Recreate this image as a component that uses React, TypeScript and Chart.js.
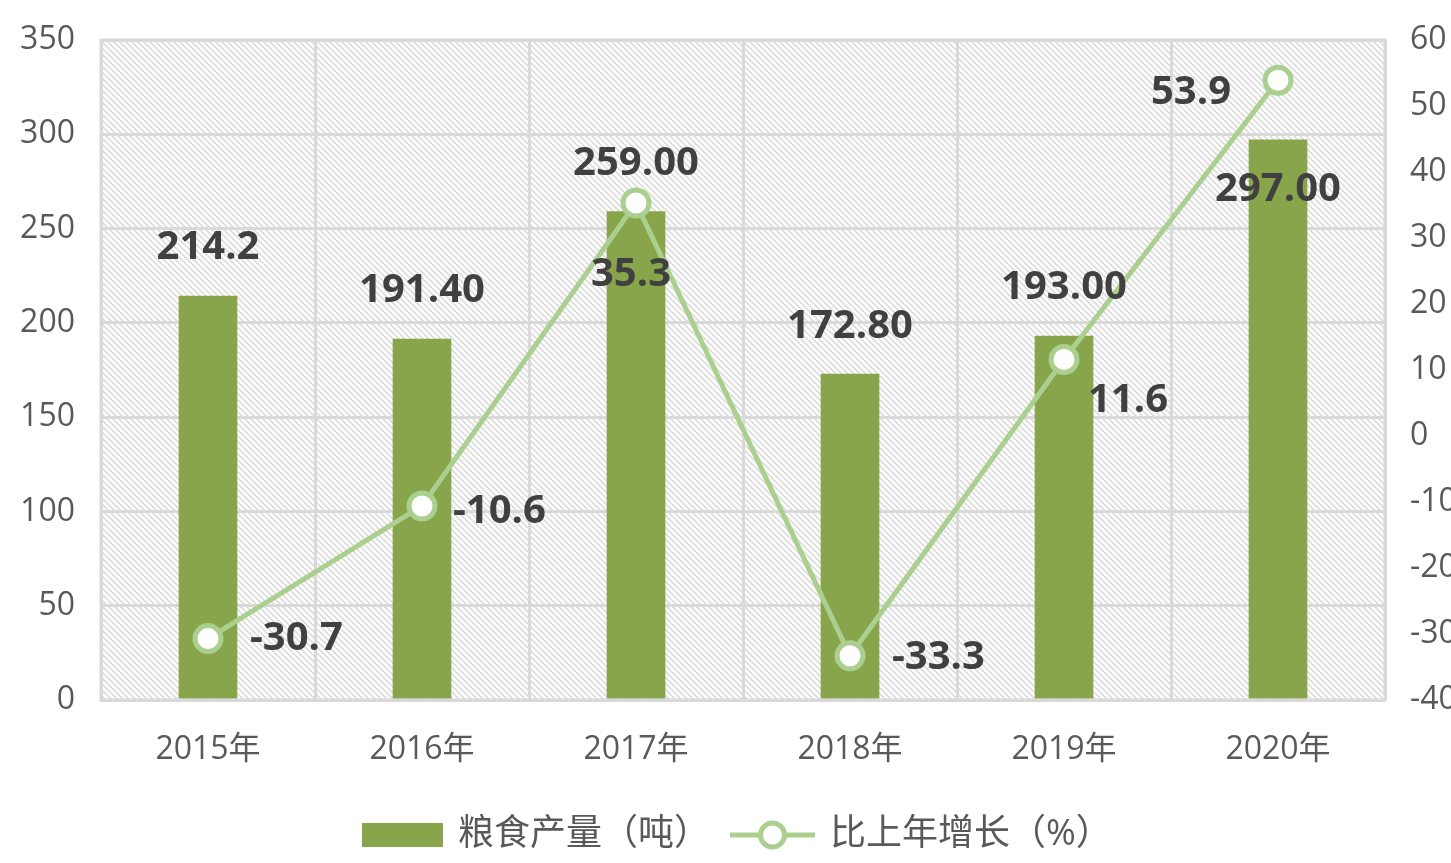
import React, { useEffect, useRef } from "react";
import { Chart, registerables } from "chart.js";

Chart.register(...registerables);

const categories = ["2015年", "2016年", "2017年", "2018年", "2019年", "2020年"];
const production = [214.2, 191.4, 259.0, 172.8, 193.0, 297.0];
const productionLabels = ["214.2", "191.40", "259.00", "172.80", "193.00", "297.00"];
const growth = [-30.7, -10.6, 35.3, -33.3, 11.6, 53.9];
const growthLabels = ["-30.7", "-10.6", "35.3", "-33.3", "11.6", "53.9"];
const legendNames = ["粮食产量（吨）", "比上年增长（%）"];

// label placement relative to each line point: [dx, dy, align]
const growthLabelPlacement: [number, number, CanvasTextAlign][] = [
  [42, 0, "left"],
  [31, 6, "left"],
  [-5, 72, "center"],
  [42, 2, "left"],
  [24, 41, "left"],
  [-47, 12, "right"],
];

const BAR_COLOR = "#88a54b";
const LINE_COLOR = "#aacf8e";
const GRID_COLOR = "#d9d9d9";
const LABEL_COLOR = "#404040";
const TICK_COLOR = "#595959";
const FONT = "'Open Sans', 'Noto Sans CJK SC', sans-serif";

function makePattern(ctx: CanvasRenderingContext2D) {
  const c = document.createElement("canvas");
  const s = 6;
  c.width = s;
  c.height = s;
  const p = c.getContext("2d")!;
  p.fillStyle = "#ffffff";
  p.fillRect(0, 0, s, s);
  p.strokeStyle = "#dcdcdc";
  p.lineWidth = 1.6;
  for (let k = -1; k <= 1; k++) {
    p.beginPath();
    p.moveTo(k * s - 1, -1);
    p.lineTo(k * s + s + 1, s + 1);
    p.stroke();
  }
  return ctx.createPattern(c, "repeat");
}

const bgPlugin = {
  id: "hatchBg",
  beforeDraw(chart: any) {
    const { ctx, chartArea } = chart;
    ctx.save();
    ctx.fillStyle = "#ffffff";
    ctx.fillRect(0, 0, chart.width, chart.height);
    const pat = makePattern(ctx);
    if (pat) {
      ctx.fillStyle = pat;
      ctx.fillRect(chartArea.left, chartArea.top, chartArea.right - chartArea.left, chartArea.bottom - chartArea.top);
    }
    ctx.restore();
  },
  afterDraw(chart: any) {
    const { ctx, chartArea } = chart;
    ctx.save();
    ctx.strokeStyle = GRID_COLOR;
    ctx.lineWidth = 3;
    ctx.strokeRect(chartArea.left, chartArea.top, chartArea.right - chartArea.left, chartArea.bottom - chartArea.top);
    ctx.restore();
  },
};

const labelPlugin = {
  id: "valueLabels",
  afterDatasetsDraw(chart: any) {
    const { ctx, chartArea } = chart;
    ctx.save();
    ctx.font = `bold 40px ${FONT}`;
    ctx.fillStyle = LABEL_COLOR;
    ctx.textBaseline = "middle";
    const barMeta = chart.getDatasetMeta(0);
    barMeta.data.forEach((el: any, i: number) => {
      let y = el.y - 48;
      if (y < chartArea.top + 60) y = el.y + 50;
      ctx.textAlign = "center";
      ctx.fillText(productionLabels[i], el.x, y);
    });
    const lineMeta = chart.getDatasetMeta(1);
    lineMeta.data.forEach((el: any, i: number) => {
      const [dx, dy, align] = growthLabelPlacement[i];
      ctx.textAlign = align;
      ctx.fillText(growthLabels[i], el.x + dx, el.y + dy);
    });
    ctx.restore();
  },
};

const legendPlugin = {
  id: "customLegend",
  afterDraw(chart: any) {
    const { ctx, chartArea } = chart;
    ctx.save();
    ctx.font = `36px ${FONT}`;
    const w1 = ctx.measureText(legendNames[0]).width;
    const sw = 81;
    const lw = 85;
    let x = chartArea.left + 261;
    const y = 835;
    ctx.fillStyle = BAR_COLOR;
    ctx.fillRect(x, y - 12, sw, 24);
    x += sw + 15;
    ctx.fillStyle = TICK_COLOR;
    ctx.textBaseline = "middle";
    ctx.textAlign = "left";
    ctx.fillText(legendNames[0], x, y);
    x += w1 + 20;
    ctx.strokeStyle = LINE_COLOR;
    ctx.lineWidth = 5;
    ctx.beginPath();
    ctx.moveTo(x, y);
    ctx.lineTo(x + lw, y);
    ctx.stroke();
    ctx.beginPath();
    ctx.arc(x + lw / 2, y, 12, 0, Math.PI * 2);
    ctx.fillStyle = "#ffffff";
    ctx.fill();
    ctx.lineWidth = 5;
    ctx.stroke();
    x += lw + 15;
    ctx.fillStyle = TICK_COLOR;
    ctx.fillText(legendNames[1], x, y);
    ctx.restore();
  },
};

const noPad = (s: any) => {
  s.paddingTop = 0;
  s.paddingBottom = 0;
};

export default function App() {
  const ref = useRef<HTMLCanvasElement>(null);
  useEffect(() => {
    if (!ref.current) return;
    const chart = new Chart(ref.current, {
      type: "bar",
      data: {
        labels: categories,
        datasets: [
          {
            type: "bar",
            label: legendNames[0],
            data: production,
            backgroundColor: BAR_COLOR,
            barThickness: 58,
            yAxisID: "y",
            order: 2,
          },
          {
            type: "line",
            label: legendNames[1],
            data: growth,
            borderColor: LINE_COLOR,
            borderWidth: 5,
            pointRadius: 13,
            pointBorderWidth: 5,
            pointBackgroundColor: "#ffffff",
            pointBorderColor: LINE_COLOR,
            yAxisID: "y1",
            order: 1,
          } as any,
        ],
      },
      options: {
        responsive: false,
        animation: false,
        layout: { padding: { top: 40, left: 0, right: 0, bottom: 0 } },
        plugins: { legend: { display: false }, tooltip: { enabled: false } },
        scales: {
          x: {
            offset: true,
            grid: { color: GRID_COLOR, lineWidth: 3, offset: true, drawTicks: false },
            border: { display: false },
            ticks: { color: TICK_COLOR, font: { size: 32, family: FONT }, padding: 31 },
            afterFit: (s: any) => {
              s.height = 163;
            },
          },
          y: {
            position: "left",
            min: 0,
            max: 350,
            ticks: { stepSize: 50, color: TICK_COLOR, font: { size: 32, family: FONT }, padding: 26 },
            grid: { color: GRID_COLOR, lineWidth: 3, drawTicks: false },
            border: { display: false },
            afterFit: (s: any) => {
              s.width = 101;
              noPad(s);
            },
          },
          y1: {
            position: "right",
            min: -40,
            max: 60,
            ticks: { stepSize: 10, color: TICK_COLOR, font: { size: 32, family: FONT }, padding: 25 },
            grid: { display: false, drawTicks: false },
            border: { display: false },
            afterFit: (s: any) => {
              s.width = 115;
              noPad(s);
            },
          },
        },
      },
      plugins: [bgPlugin, labelPlugin, legendPlugin],
    });
    return () => chart.destroy();
  }, []);
  return (
    <div style={{ position: "fixed", left: 0, top: 0, width: 1451, height: 863, overflow: "hidden", background: "#fff" }}>
      <canvas ref={ref} width={1500} height={863} style={{ display: "block", width: 1500, height: 863 }} />
    </div>
  );
}
